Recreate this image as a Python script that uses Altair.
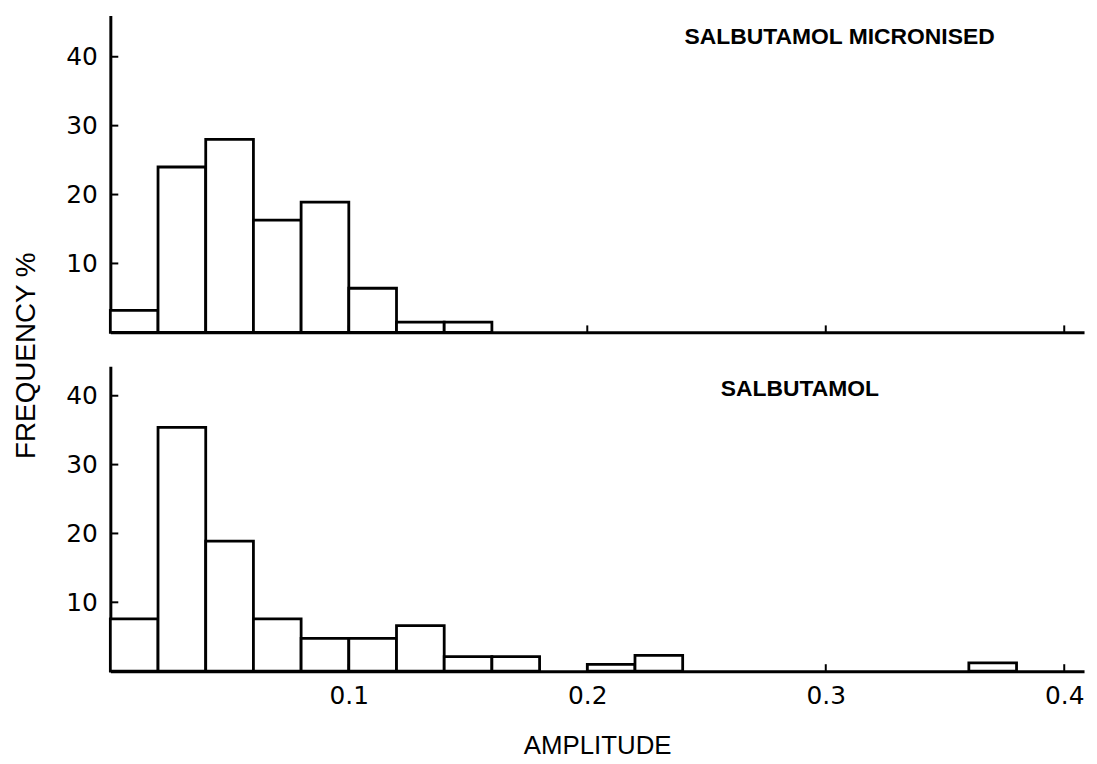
import altair as alt
import pandas as pd

# ---- data ----
bin_width = 0.02
top_bin_lo = [0.00, 0.02, 0.04, 0.06, 0.08, 0.10, 0.12, 0.14]
top_freq = [3.2, 24.0, 28.0, 16.3, 18.9, 6.4, 1.5, 1.5]

bottom_bin_lo = [0.00, 0.02, 0.04, 0.06, 0.08, 0.10, 0.12, 0.14, 0.16, 0.20, 0.22, 0.36]
bottom_freq = [7.6, 35.4, 18.9, 7.6, 4.75, 4.75, 6.6, 2.1, 2.1, 1.0, 2.3, 1.2]

x_tick_values = [0.1, 0.2, 0.3, 0.4]
y_tick_values = [10, 20, 30, 40]

top_label = "SALBUTAMOL MICRONISED"
bottom_label = "SALBUTAMOL"
x_title = "AMPLITUDE"
y_title = "FREQUENCY  %"

FONT = "Liberation Sans"
TICK_FONT = "DejaVu Sans"
W = 980
x_scale = alt.Scale(domain=[0, 0.4083], nice=False, zero=False)


def make_df(lo, freq):
    df = pd.DataFrame({"lo": lo, "freq": freq})
    df["hi"] = df["lo"] + bin_width
    return df


def panel(lo, freq, ymax, height, label, label_x, label_y, bottom):
    df = make_df(lo, freq)
    y_scale = alt.Scale(domain=[0, ymax], nice=False)

    x_axis = alt.Axis(
        values=x_tick_values,
        format=".1f",
        labels=bottom,
        ticks=False,
        grid=False,
        domainWidth=3,
        domainColor="black",
        labelFont=TICK_FONT,
        labelFontSize=25,
        labelColor="black",
        labelPadding=13,
        title=x_title if bottom else "",
        titleFont=FONT,
        titleFontSize=26,
        titleFontWeight="normal",
        titleColor="black",
        titlePadding=24,
    )
    y_kwargs = dict(
        values=y_tick_values,
        ticks=False,
        grid=False,
        domainWidth=3,
        domainColor="black",
        labelFont=TICK_FONT,
        labelFontSize=25,
        labelColor="black",
        labelPadding=13,
    )
    if bottom:
        y_axis = alt.Axis(
            title=y_title,
            titleFont=FONT,
            titleFontSize=28,
            titleFontWeight="normal",
            titleColor="black",
            titleAngle=270,
            titleAlign="center",
            titleBaseline="alphabetic",
            titleX=-76,
            titleY=-11,
            **y_kwargs,
        )
    else:
        y_axis = alt.Axis(title="", **y_kwargs)

    bars = alt.Chart(df).mark_rect(fill="white", stroke="black", strokeWidth=2.8).encode(
        x=alt.X("lo:Q", scale=x_scale, axis=x_axis),
        x2="hi:Q",
        y=alt.Y("freq:Q", scale=y_scale, axis=y_axis),
        y2=alt.datum(0),
    )

    xt = alt.Chart(pd.DataFrame({"t": x_tick_values})).mark_rule(
        color="black", strokeWidth=2
    ).encode(
        x=alt.X("t:Q", scale=x_scale, axis=x_axis),
        y=alt.value(height - 7),
        y2=alt.value(height),
    )
    yt = alt.Chart(pd.DataFrame({"v": y_tick_values})).mark_rule(
        color="black", strokeWidth=2
    ).encode(
        y=alt.Y("v:Q", scale=y_scale, axis=y_axis),
        x=alt.value(0),
        x2=alt.value(8),
    )
    txt = alt.Chart(pd.DataFrame({"label": [label], "lx": [label_x], "ly": [label_y]})).mark_text(
        font=FONT, fontSize=23, fontWeight="bold", align="left", baseline="alphabetic", color="black"
    ).encode(
        x=alt.X("lx:Q", scale=x_scale, axis=x_axis),
        y=alt.Y("ly:Q", scale=y_scale, axis=y_axis),
        text="label:N",
    )
    return alt.layer(bars, xt, yt, txt).properties(width=W, height=height)


top = panel(top_bin_lo, top_freq, 46.0, 319, top_label, 0.2408, 41.8, False)
bottom = panel(bottom_bin_lo, bottom_freq, 44.3, 307, bottom_label, 0.256, 40.0, True)

chart = (
    alt.vconcat(top, bottom, spacing=34, bounds="flush")
    .properties(padding={"left": 4, "top": 5, "right": 5, "bottom": 5}, background="white")
    .configure_view(stroke=None)
)

chart.save("out.html", embed_options={"renderer": "svg", "actions": False})
